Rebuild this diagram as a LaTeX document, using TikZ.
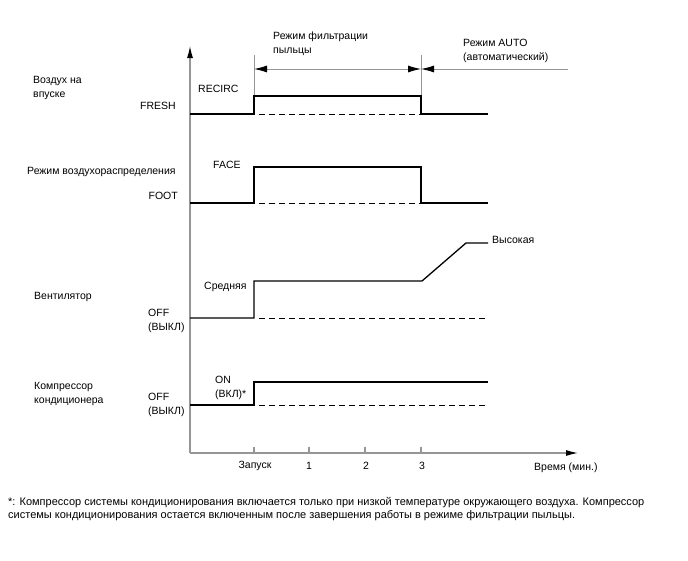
\documentclass[tikz,border=0pt]{standalone}
\usepackage{fontspec}
\setmainfont{Liberation Sans}
\usetikzlibrary{arrows.meta}
\definecolor{axisgray}{RGB}{150,150,150}
\begin{document}
\begin{tikzpicture}[x=1pt,y=-1pt,
  font=\fontsize{10.5}{14}\selectfont,
  lbl/.style={inner sep=0pt,align=left},
  fnote/.style={inner sep=0pt,anchor=base west,font=\fontsize{11}{13}\selectfont},
  sig/.style={line width=1.3pt,black},
  dsh/.style={line width=0.9pt,black,dash pattern=on 6pt off 4pt},
  axisline/.style={line width=1.2pt,axisgray},
  guide/.style={line width=0.9pt,axisgray},
  tipY/.style={-{Latex[color=black,length=12pt,width=6pt]}},
  tipD/.style={{Latex[color=black,length=13pt,width=7pt]}-{Latex[color=black,length=13pt,width=7pt]}},
  tipL/.style={-{Latex[color=black,length=13pt,width=7pt]}}]
\useasboundingbox (0,0) rectangle (688,560);

% axes
\coordinate (O) at (190,453);
\coordinate (Ytop) at (190,46);
\coordinate (Xend) at (578,453);
\draw[axisline,tipY] (O) -- (Ytop);
\draw[axisline,tipY] (O) -- (Xend);
\foreach \x/\n in {254/t0,309/t1,365/t2,421/t3}{
  \coordinate (\n) at (\x,453);
  \draw[axisline] (\n) -- ++(0,-6);
}
\node[lbl] (lstart) at (255,466) {Запуск};
\node[lbl] (l1) at (309,466) {1};
\node[lbl] (l2) at (366,466) {2};
\node[lbl] (l3) at (422,466) {3};
\node[lbl,anchor=west] (ltime) at (534,468) {Время (мин.)};

% mode guides
\coordinate (gA) at (254,55);
\coordinate (gAb) at (254,96);
\coordinate (gB) at (421,55);
\coordinate (gBb) at (421,96);
\coordinate (dA) at (254,69);
\coordinate (dB) at (421,69);
\coordinate (dC) at (568,69);
\draw[guide] (gA) -- (gAb);
\draw[guide] (gB) -- (gBb);
\draw[guide,tipD] (dA) -- (dB);
\draw[guide,tipL] (dC) -- (dB);
\node[lbl,anchor=west] (mfilt) at (273,44) {Режим фильтрации\\пыльцы};
\node[lbl,anchor=west] (mauto) at (463,51) {Режим AUTO\\(автоматический)};

% signal 1: intake air
\draw[sig] (190,114) -- (254,114) -- (254,96) -- (421,96) -- (421,114) -- (488,114);
\draw[dsh] (259,114) -- (420,114);
\node[lbl,anchor=west] (s1) at (33,88) {Воздух на\\впуске};
\node[lbl,anchor=east] (fresh) at (176,106) {FRESH};
\node[lbl,anchor=west] (recirc) at (198,89) {RECIRC};

% signal 2: air distribution
\draw[sig] (190,203) -- (254,203) -- (254,167) -- (421,167) -- (421,203) -- (488,203);
\draw[dsh] (259,203) -- (420,203);
\node[lbl,anchor=west] (s2) at (27,172) {Режим воздухораспределения};
\node[lbl,anchor=east] (foot) at (178,196) {FOOT};
\node[lbl,anchor=west] (face) at (213,165) {FACE};

% signal 3: blower
\draw[sig] (190,318) -- (254,318) -- (254,281) -- (422,281) -- (466,243) -- (488,243);
\draw[dsh] (259,318) -- (488,318);
\node[lbl,anchor=west] (s3) at (34,297) {Вентилятор};
\node[lbl,anchor=west] (off3) at (148,321) {OFF\\(ВЫКЛ)};
\node[lbl,anchor=west] (mid) at (204,287) {Средняя};
\node[lbl,anchor=west] (high) at (492,240) {Высокая};

% signal 4: compressor
\draw[sig] (190,405) -- (254,405) -- (254,382) -- (488,382);
\draw[dsh] (259,405) -- (488,405);
\node[lbl,anchor=west] (s4) at (34,394) {Компрессор\\кондиционера};
\node[lbl,anchor=west] (off4) at (148,405) {OFF\\(ВЫКЛ)};
\node[lbl,anchor=west] (on4) at (215,388) {ON\\(ВКЛ)*};

% footnote
\node[fnote] (fn1) at (8,505) {*: Компрессор системы кондиционирования включается только при низкой температуре окружающего воздуха. Компрессор};
\node[fnote] (fn2) at (8,518) {системы кондиционирования остается включенным после завершения работы в режиме фильтрации пыльцы.};
\end{tikzpicture}
\end{document}
